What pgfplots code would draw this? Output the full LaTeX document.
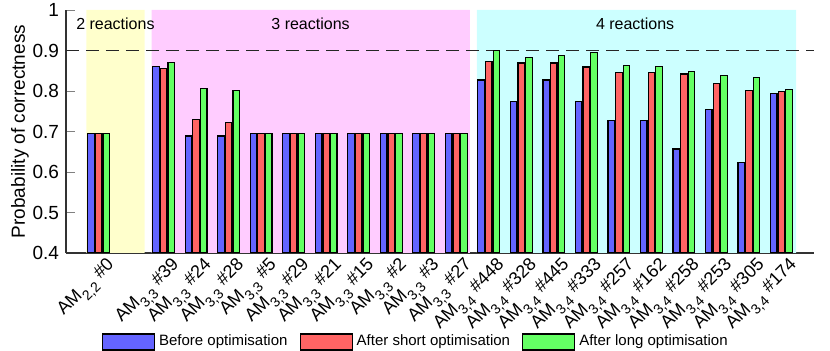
\documentclass[border=0pt]{standalone}
\usepackage{fontspec}
\setmainfont{Liberation Sans}
\usepackage{pgfplots}
\pgfplotsset{compat=1.18}
\definecolor{cblue}{RGB}{100,100,255}
\definecolor{cred}{RGB}{255,100,100}
\definecolor{cgreen}{RGB}{100,255,100}
\definecolor{bgyellow}{RGB}{255,255,204}
\definecolor{bgpink}{RGB}{255,204,255}
\definecolor{bgcyan}{RGB}{204,255,255}
% subscript in the tick labels
\newcommand\sub[1]{\raisebox{-0.38em}{\fontsize{7}{8}\selectfont #1}}

\begin{document}
\begin{tikzpicture}
\useasboundingbox (-33pt,-49pt) rectangle (382pt,126.5pt);
\begin{axis}[
  scale only axis, width=374pt, height=121.5pt,
  xmin=-1, xmax=22, ymin=0.4, ymax=1,
  axis x line*=bottom, axis y line*=left,
  axis line style={line width=0.6pt, black!80},
  tick align=inside,
  ytick={0.4,0.5,...,1.0},
  yticklabel style={/pgf/number format/fixed, font=\fontsize{9.5}{11}\selectfont},
  /pgf/number format/assume math mode=true,
  ylabel={Probability of correctness},
  ylabel style={font=\fontsize{9.5}{11}\selectfont, yshift=-5pt},
  xtick={0,2,3,4,5,6,7,8,9,10,11,12,13,14,15,16,17,18,19,20,21},
  xticklabels={AM\sub{2,2} \#0,
    AM\sub{3,3} \#39, AM\sub{3,3} \#24, AM\sub{3,3} \#28,
    AM\sub{3,3} \#5, AM\sub{3,3} \#29, AM\sub{3,3} \#21,
    AM\sub{3,3} \#15, AM\sub{3,3} \#2, AM\sub{3,3} \#3,
    AM\sub{3,3} \#27,
    AM\sub{3,4} \#448, AM\sub{3,4} \#328, AM\sub{3,4} \#445,
    AM\sub{3,4} \#333, AM\sub{3,4} \#257, AM\sub{3,4} \#162,
    AM\sub{3,4} \#258, AM\sub{3,4} \#253, AM\sub{3,4} \#305,
    AM\sub{3,4} \#174},
  xticklabel style={rotate=45, anchor=north east, inner sep=0.5pt,
    xshift=2pt, yshift=-3pt, font=\fontsize{9}{10}\selectfont},
  xtick style={draw=none},
  legend style={at={(0.469,-0.366)}, anchor=center, legend columns=3,
    draw=none, fill=none, font=\fontsize{7.5}{8}\selectfont,
    /tikz/every even column/.append style={column sep=4pt}},
  legend image code/.code={\draw[#1, line width=0.6pt] (0pt,-4pt) rectangle (26pt,4pt);},
]
% background bands
\addplot[fill=bgyellow, draw=none, forget plot] coordinates {(-0.37,0.4) (1.42,0.4) (1.42,1) (-0.37,1) (-0.37,0.4)};
\addplot[fill=bgpink, draw=none, forget plot] coordinates {(1.63,0.4) (11.42,0.4) (11.42,1) (1.63,1) (1.63,0.4)};
\addplot[fill=bgcyan, draw=none, forget plot] coordinates {(11.63,0.4) (21.45,0.4) (21.45,1) (11.63,1) (11.63,0.4)};
\addplot[black!85, line width=0.9pt, dash pattern=on 6.5pt off 3.5pt, forget plot] coordinates {(-1,0.9) (22,0.9)};

\addplot[ybar, bar width=0.2, bar shift=-0.235, fill=cblue, draw=black, line width=0.6pt] coordinates {
  (0,0.696) (2,0.861) (3,0.689) (4,0.689) (5,0.696) (6,0.696) (7,0.696) (8,0.696)
  (9,0.696) (10,0.696) (11,0.696)
  (12,0.827) (13,0.775) (14,0.827) (15,0.775) (16,0.728) (17,0.728) (18,0.657)
  (19,0.755) (20,0.624) (21,0.794)};
\addplot[ybar, bar width=0.2, bar shift=0, fill=cred, draw=black, line width=0.6pt] coordinates {
  (0,0.696) (2,0.856) (3,0.730) (4,0.722) (5,0.696) (6,0.696) (7,0.696) (8,0.696)
  (9,0.696) (10,0.696) (11,0.696)
  (12,0.872) (13,0.869) (14,0.869) (15,0.859) (16,0.846) (17,0.845) (18,0.842)
  (19,0.819) (20,0.802) (21,0.798)};
\addplot[ybar, bar width=0.2, bar shift=0.235, fill=cgreen, draw=black, line width=0.6pt] coordinates {
  (0,0.696) (2,0.871) (3,0.807) (4,0.801) (5,0.696) (6,0.696) (7,0.696) (8,0.696)
  (9,0.696) (10,0.696) (11,0.696)
  (12,0.899) (13,0.883) (14,0.888) (15,0.895) (16,0.862) (17,0.861) (18,0.849)
  (19,0.839) (20,0.833) (21,0.804)};
\legend{Before optimisation, After short optimisation, After long optimisation}

\node[font=\fontsize{8}{9}\selectfont] at (axis cs:0.52,0.965) {2 reactions};
\node[font=\fontsize{8}{9}\selectfont] at (axis cs:6.52,0.965) {3 reactions};
\node[font=\fontsize{8}{9}\selectfont] at (axis cs:16.5,0.965) {4 reactions};
\end{axis}
\end{tikzpicture}
\end{document}
